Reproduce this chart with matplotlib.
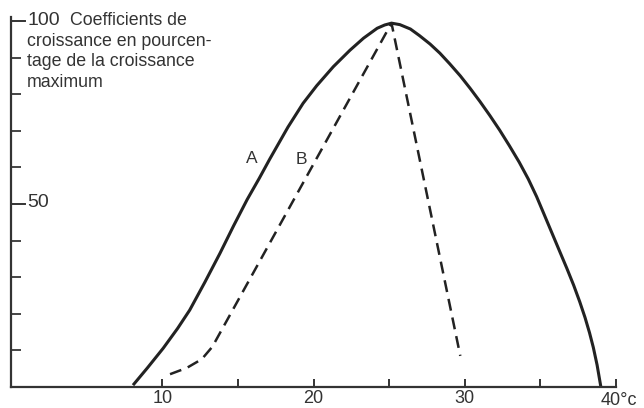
import matplotlib.pyplot as plt

# courbe A (trait plein)
temp_a = [8.05, 9.0, 10.05, 11.0, 11.8, 12.8, 13.8, 14.7, 15.6, 16.4, 17.1, 18.3, 19.3, 20.2, 21.3, 22.4,
          23.3, 24.2, 24.7, 25.15, 25.7, 26.4, 27.0, 27.7, 28.35, 29.0, 29.7, 30.35, 31.0, 31.65, 32.3,
          32.95, 33.6, 34.2, 34.75, 35.2, 35.75, 36.3, 36.75, 37.2, 37.6, 37.95, 38.25, 38.5, 38.75, 39.0]
coef_a = [0.5, 5.2, 10.6, 16.0, 21.0, 28.6, 36.5, 44.0, 51.2, 57.0, 62.3, 71.0, 77.5, 82.3, 87.5, 92.0,
          95.3, 98.0, 98.9, 99.4, 99.0, 97.8, 96.0, 93.7, 91.2, 88.3, 85.0, 81.6, 78.0, 74.2, 70.2,
          65.9, 61.4, 56.8, 52.0, 47.6, 42.2, 36.8, 32.4, 27.8, 23.3, 19.0, 14.8, 10.8, 6.0, 0.0]
# courbe B (tirets)
temp_b = [10.5, 11.6, 12.6, 13.3, 25.15, 29.7]
coef_b = [3.5, 5.2, 7.6, 11.0, 99.4, 8.5]

xticks = [10, 15, 20, 25, 30, 35, 40]
xlabels = ["10", "", "20", "", "30", "", ""]
yticks = [10, 20, 30, 40, 60, 70, 80, 90]
legende = ["croissance en pourcen-", "tage de la croissance", "maximum"]

plt.rcParams['font.family'] = ['Liberation Sans', 'DejaVu Sans']
ink = '#222222'
grey = '#333333'

fig = plt.figure(figsize=(6.44, 4.08), dpi=100)
W, H = 644, 408
ax = fig.add_axes([11.3/W, 21/H, (616-11.3)/W, (387-17.3)/H])
ax.set_xlim(0, 40)
ax.set_ylim(0, 101)

ax.plot(temp_a, coef_a, color=ink, lw=2.2, solid_capstyle='butt', solid_joinstyle='round')
ax.plot(temp_b, coef_b, color=ink, lw=1.8, linestyle=(0, (4.8, 2.8)))

for s in ['top', 'right']:
    ax.spines[s].set_visible(False)
for s in ['left', 'bottom']:
    ax.spines[s].set_color(grey)
    ax.spines[s].set_linewidth(1.6)

ax.set_xticks(xticks)
ax.set_xticklabels(xlabels, fontsize=13, color=grey)
ax.tick_params(axis='x', direction='in', length=6, width=1.4, color=grey, pad=2)
ax.set_yticks(yticks)
ax.set_yticklabels([])
ax.tick_params(axis='y', direction='in', length=7, width=1.4, color='#444444')
# graduations 50 et 100 plus longues
for v in [50, 100]:
    ax.plot([0, 0.9], [v, v], color=grey, lw=1.4, clip_on=False)

ax.text(1.05, 100, "100", fontsize=14, color=grey, va='center', ha='left')
ax.text(1.05, 50.5, "50", fontsize=14, color=grey, va='center', ha='left')
ax.text(39.0, -1.5, "40°c", fontsize=13, color=grey, va='top', ha='left', clip_on=False)

ax.text(3.9, 100, "Coefficients de", fontsize=12.8, color=grey, va='center', ha='left')
for i, ligne in enumerate(legende):
    ax.text(1.05, 94.3 - 5.5 * i, ligne, fontsize=12.8, color=grey, va='center', ha='left')

ax.text(15.9, 62.5, "A", fontsize=12.5, color=grey, ha='center', va='center')
ax.text(19.2, 62.2, "B", fontsize=12.5, color=grey, ha='center', va='center')

fig.savefig('out.png', dpi=100)
